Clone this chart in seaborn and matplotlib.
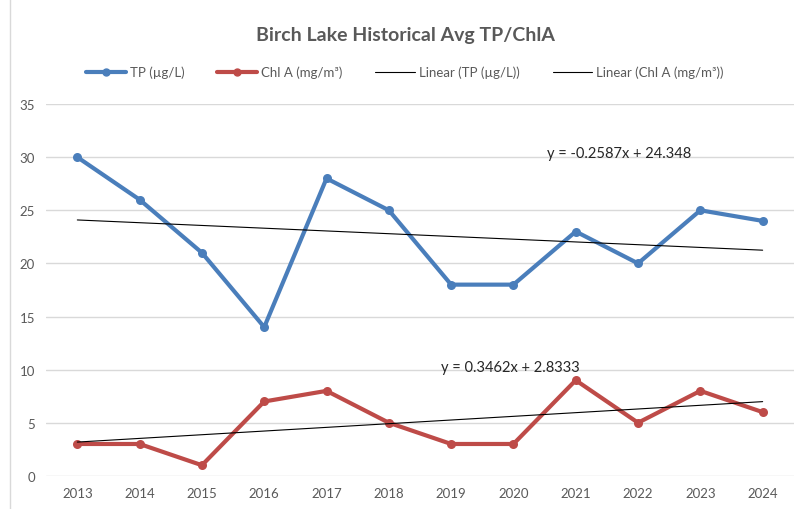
import numpy as np
import pandas as pd
import matplotlib
matplotlib.use('Agg')
import matplotlib.pyplot as plt
import seaborn as sns

years = [2013, 2014, 2015, 2016, 2017, 2018, 2019, 2020, 2021, 2022, 2023, 2024]
tp_values = [30, 26, 21, 14, 28, 25, 18, 18, 23, 20, 25, 24]
chla_values = [3, 3, 1, 7, 8, 5, 3, 3, 9, 5, 8, 6]
tp_label = 'TP (µg/L)'
chla_label = 'Chl A (mg/m³)'

sns.set_style('white')
plt.rcParams['font.family'] = ['Lato', 'DejaVu Sans']

pos = np.arange(len(years))
df = pd.DataFrame({
    'pos': np.concatenate([pos, pos]),
    'value': tp_values + chla_values,
    'series': [tp_label] * len(years) + [chla_label] * len(years),
})

blue = '#4A7EBB'
red = '#BE4B48'

fig = plt.figure(figsize=(8.1, 5.1), dpi=100)
ax = fig.add_axes([0.057, 0.065, 0.923, 0.729])

sns.lineplot(data=df, x='pos', y='value', hue='series',
             palette={tp_label: blue, chla_label: red},
             marker='o', markersize=6.5, markeredgewidth=0, linewidth=3,
             ax=ax, legend=False, zorder=3)

# trend lines (Excel uses x = 1..n)
xs = pos + 1
tp_fit = np.polyfit(xs, tp_values, 1)
chla_fit = np.polyfit(xs, chla_values, 1)
ax.plot(pos, np.polyval(tp_fit, xs), color='black', linewidth=0.8, zorder=4)
ax.plot(pos, np.polyval(chla_fit, xs), color='black', linewidth=0.8, zorder=4)

ax.text(8.7, 30.4, f'y = {tp_fit[0]:.4f}x + {tp_fit[1]:.3f}', ha='center', va='center', fontsize=10.5)
ax.text(6.95, 10.2, f'y = {chla_fit[0]:.4f}x + {chla_fit[1]:.4f}', ha='center', va='center', fontsize=10.5)

ax.set_xlim(-0.5, len(years) - 0.5)
ax.set_ylim(0, 35)
ax.set_yticks(range(0, 36, 5))
ax.set_xticks(pos)
ax.set_xticklabels(years)
ax.tick_params(axis='both', length=0, labelsize=9.5, labelcolor='#595959', pad=8)
ax.grid(axis='y', color='#D9D9D9', linewidth=1)
ax.set_axisbelow(True)
for s in ax.spines.values():
    s.set_visible(False)
ax.set_xlabel('')
ax.set_ylabel('')

handles = [
    plt.Line2D([], [], color=blue, linewidth=3, marker='o', markersize=5),
    plt.Line2D([], [], color=red, linewidth=3, marker='o', markersize=5),
    plt.Line2D([], [], color='black', linewidth=0.8),
    plt.Line2D([], [], color='black', linewidth=0.8),
]
labels = [tp_label, chla_label, 'Linear (TP (µg/L))', 'Linear (Chl A (mg/m³))']
fig.legend(handles, labels, loc='center', bbox_to_anchor=(0.5, 0.857), ncol=4,
           frameon=False, fontsize=9.5, handlelength=3, columnspacing=2.5,
           handletextpad=0.3, labelcolor='#595959')

fig.text(0.5, 0.93, 'Birch Lake Historical Avg TP/ChlA', ha='center', va='center',
         fontsize=14, fontweight='bold', color='#595959')

# chart frame edge on the left
fig.add_artist(plt.Line2D([0.0125, 0.0125], [0, 1], color='#D9D9D9', linewidth=1,
                          transform=fig.transFigure))

fig.savefig('out.png', dpi=100)
